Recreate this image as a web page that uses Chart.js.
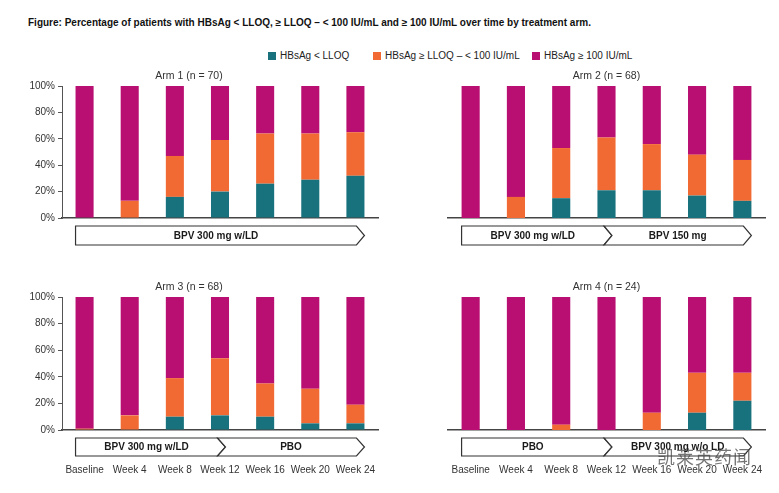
<!DOCTYPE html>
<html lang="en">
<head>
    <meta charset="UTF-8">
    <title>HBsAg over time by treatment arm</title>
    <script src="https://cdn.jsdelivr.net/npm/chart.js@4.4.0/dist/chart.umd.min.js"></script>
    <style>
        body {
            margin: 0;
            width: 779px;
            height: 493px;
            position: relative;
            overflow: hidden;
            background: #fff;
            font-family: 'Liberation Sans', Arial, sans-serif;
        }
        .fig-title {
            position: absolute;
            left: 28px;
            top: 17px;
            font-size: 10px;
            font-weight: bold;
            color: #111;
            white-space: nowrap;
        }
        .legend-item {
            position: absolute;
            top: 50px;
            display: flex;
            align-items: center;
            font-size: 10px;
            color: #222;
            white-space: nowrap;
        }
        .legend-color {
            width: 8px;
            height: 8px;
            margin-right: 4px;
        }
        .panel { position: absolute; }
        .watermark {
            position: absolute;
            left: 657px;
            top: 443px;
            font-family: 'Noto Sans CJK SC', sans-serif;
            font-size: 18px;
            letter-spacing: 1px;
            color: rgba(70, 70, 70, 0.75);
            white-space: nowrap;
        }
    </style>
</head>
<body>
    <div class="fig-title">Figure: Percentage of patients with HBsAg &lt; LLOQ, ≥ LLOQ – &lt; 100 IU/mL and ≥ 100 IU/mL over time by treatment arm.</div>

    <div class="legend-item" style="left:268px"><span class="legend-color" style="background:#17727d"></span>HBsAg &lt; LLOQ</div>
    <div class="legend-item" style="left:373px"><span class="legend-color" style="background:#f26a33"></span>HBsAg ≥ LLOQ – &lt; 100 IU/mL</div>
    <div class="legend-item" style="left:532px"><span class="legend-color" style="background:#b90f72"></span>HBsAg ≥ 100 IU/mL</div>

    <div class="panel" style="left:0;top:64px;width:390px;height:200px"><canvas id="arm1"></canvas></div>
    <div class="panel" style="left:390px;top:64px;width:389px;height:200px"><canvas id="arm2"></canvas></div>
    <div class="panel" style="left:0;top:275px;width:390px;height:210px"><canvas id="arm3"></canvas></div>
    <div class="panel" style="left:390px;top:275px;width:389px;height:210px"><canvas id="arm4"></canvas></div>

    <div class="watermark">凯莱英药闻</div>

    <script>
        // Timepoints
        const weeks = ['Baseline', 'Week 4', 'Week 8', 'Week 12', 'Week 16', 'Week 20', 'Week 24'];

        // % of patients per category
        const arm1Below = [0, 0, 16, 20, 26, 29, 32];
        const arm1Mid   = [0, 13, 31, 39, 38, 35, 33];
        const arm1High  = [100, 87, 53, 41, 36, 36, 35];

        const arm2Below = [0, 0, 15, 21, 21, 17, 13];
        const arm2Mid   = [0, 16, 38, 40, 35, 31, 31];
        const arm2High  = [100, 84, 47, 39, 44, 52, 56];

        const arm3Below = [0, 0, 10, 11, 10, 5, 5];
        const arm3Mid   = [1, 11, 29, 43, 25, 26, 14];
        const arm3High  = [99, 89, 61, 46, 65, 69, 81];

        const arm4Below = [0, 0, 0, 0, 0, 13, 22];
        const arm4Mid   = [0, 0, 4, 0, 13, 30, 21];
        const arm4High  = [100, 100, 96, 100, 87, 57, 57];

        // Treatment phases (label, first and last timepoint index)
        const arm1Phases = [{ label: 'BPV 300 mg w/LD', from: 0, to: 6 }];
        const arm2Phases = [{ label: 'BPV 300 mg w/LD', from: 0, to: 3 }, { label: 'BPV 150 mg', from: 3, to: 6 }];
        const arm3Phases = [{ label: 'BPV 300 mg w/LD', from: 0, to: 3 }, { label: 'PBO', from: 3, to: 6 }];
        const arm4Phases = [{ label: 'PBO', from: 0, to: 3 }, { label: 'BPV 300 mg w/o LD', from: 3, to: 6 }];

        const seriesNames = ['HBsAg < LLOQ', 'HBsAg ≥ LLOQ – < 100 IU/mL', 'HBsAg ≥ 100 IU/mL'];
        const colors = ['#17727d', '#f26a33', '#b90f72'];
        const BAR_PCT = 0.4;

        // draws the treatment phase arrows under the x axis
        const phaseArrows = {
            id: 'phaseArrows',
            afterDraw(chart, args, opts) {
                const segs = opts.segments || [];
                const xs = chart.scales.x;
                const area = chart.chartArea;
                const ctx = chart.ctx;
                const half = xs.width / chart.data.labels.length * BAR_PCT / 2;
                const top = area.bottom + 8;
                const h = opts.height || 19;
                const mid = top + h / 2;
                const d = 8;
                segs.forEach((s, i) => {
                    const last = i === segs.length - 1;
                    const left = i === 0 ? xs.getPixelForValue(s.from) - half : xs.getPixelForValue(s.from) - 2.5;
                    const right = last ? xs.getPixelForValue(s.to) + half - d : xs.getPixelForValue(s.to) - 2.5;
                    ctx.save();
                    ctx.beginPath();
                    ctx.moveTo(left, top);
                    ctx.lineTo(right, top);
                    ctx.lineTo(right + d, mid);
                    ctx.lineTo(right, top + h);
                    ctx.lineTo(left, top + h);
                    if (i > 0) ctx.lineTo(left + d, mid);
                    ctx.closePath();
                    ctx.fillStyle = '#fff';
                    ctx.fill();
                    ctx.strokeStyle = '#333';
                    ctx.lineWidth = 1.2;
                    ctx.stroke();
                    ctx.fillStyle = '#1a1a1a';
                    ctx.font = 'bold 10px "Liberation Sans", Arial, sans-serif';
                    ctx.textAlign = 'center';
                    ctx.textBaseline = 'middle';
                    ctx.fillText(s.label, (left + (i > 0 ? d : 0) + right) / 2, mid + 0.5);
                    ctx.restore();
                });
            }
        };
        Chart.register(phaseArrows);

        function makeArm(id, title, below, mid, high, phases, o) {
            const ctx = document.getElementById(id).getContext('2d');
            return new Chart(ctx, {
                type: 'bar',
                data: {
                    labels: weeks,
                    datasets: [below, mid, high].map((vals, i) => ({
                        label: seriesNames[i],
                        data: vals,
                        backgroundColor: colors[i],
                        borderWidth: 0,
                        barPercentage: BAR_PCT,
                        categoryPercentage: 1.0
                    }))
                },
                options: {
                    responsive: true,
                    maintainAspectRatio: false,
                    animation: false,
                    layout: { padding: { left: o.padLeft, right: o.padRight, top: 0, bottom: 0 } },
                    scales: {
                        x: {
                            stacked: true,
                            // invisible tick marks push the labels below the phase arrows
                            grid: { display: true, drawOnChartArea: false, drawTicks: true, tickLength: 34, color: 'rgba(0,0,0,0)' },
                            border: { display: true, color: '#444', width: 1.5 },
                            ticks: {
                                display: o.showX,
                                padding: 0,
                                maxRotation: 0,
                                minRotation: 0,
                                autoSkip: false,
                                color: '#333',
                                font: { size: 10, family: "'Liberation Sans', Arial, sans-serif" }
                            },
                            afterFit: s => { s.height = o.xHeight; }
                        },
                        y: {
                            display: o.showY,
                            stacked: true,
                            min: 0,
                            max: 100,
                            grid: { drawOnChartArea: false, tickLength: 4, color: '#555' },
                            border: { color: '#555', width: 1 },
                            ticks: {
                                stepSize: 20,
                                padding: 3,
                                color: '#333',
                                font: { size: 10, family: "'Liberation Sans', Arial, sans-serif" },
                                callback: v => v + '%'
                            },
                            afterFit: s => { s.width = o.showY ? 62 : 0; }
                        }
                    },
                    plugins: {
                        legend: { display: false },
                        title: {
                            display: true,
                            text: title,
                            color: '#333',
                            font: { size: 10.5, weight: 'normal', family: "'Liberation Sans', Arial, sans-serif" },
                            padding: { top: 5.7, bottom: 3.7 }
                        },
                        phaseArrows: { segments: phases, height: o.arrowH }
                    }
                }
            });
        }

        makeArm('arm1', 'Arm 1 (n = 70)', arm1Below, arm1Mid, arm1High, arm1Phases,
            { showY: true, showX: false, padLeft: 0, padRight: 12, xHeight: 46, arrowH: 19 });
        makeArm('arm2', 'Arm 2 (n = 68)', arm2Below, arm2Mid, arm2High, arm2Phases,
            { showY: false, showX: false, padLeft: 58, padRight: 14, xHeight: 46, arrowH: 19 });
        makeArm('arm3', 'Arm 3 (n = 68)', arm3Below, arm3Mid, arm3High, arm3Phases,
            { showY: true, showX: true, padLeft: 0, padRight: 12, xHeight: 55, arrowH: 18 });
        makeArm('arm4', 'Arm 4 (n = 24)', arm4Below, arm4Mid, arm4High, arm4Phases,
            { showY: false, showX: true, padLeft: 58, padRight: 14, xHeight: 55, arrowH: 18 });
    </script>
</body>
</html>
